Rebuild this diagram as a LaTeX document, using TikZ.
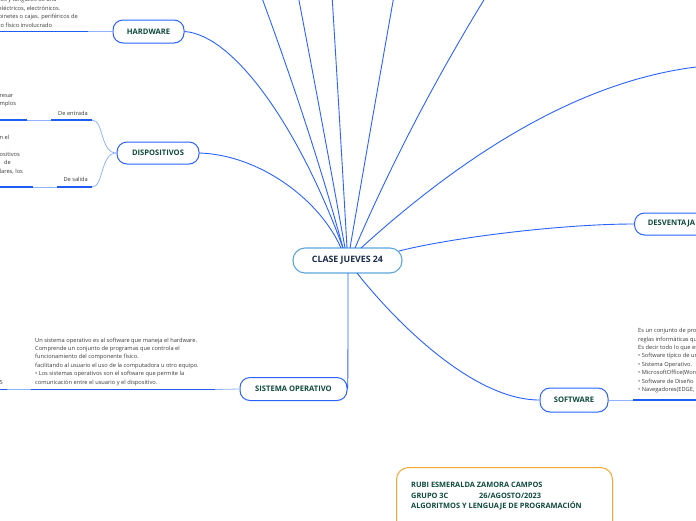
\documentclass[tikz,border=0pt]{standalone}
\usepackage{fontspec}
\setmainfont{Open Sans}
\usetikzlibrary{calc}
\definecolor{mainblue}{HTML}{2962FF}
\definecolor{lightblue}{HTML}{8FB2FF}
\definecolor{lineblue}{HTML}{1F5CF2}
\definecolor{hubblue}{HTML}{5CA6DE}
\definecolor{topicgreen}{HTML}{0E4A3B}
\definecolor{hubtext}{HTML}{1A2A4A}
\definecolor{bodygray}{HTML}{3A3A3A}
\definecolor{boxorange}{HTML}{F6A630}
\tikzset{
 topic/.style={draw=mainblue, line width=1pt, rounded corners=10pt, fill=white, text=topicgreen,
   font=\fontsize{7.6}{9}\selectfont\bfseries, inner sep=0pt, minimum height=23pt},
 hub/.style={draw=hubblue, line width=1.1pt, rounded corners=12pt, fill=white, text=hubtext,
   font=\fontsize{8.8}{10}\selectfont\bfseries, inner sep=0pt, minimum width=109pt, minimum height=25pt},
 conn/.style={draw=mainblue, line width=0.9pt},
 thinconn/.style={draw=lightblue, line width=0.8pt},
 underl/.style={draw=lineblue, line width=1.4pt},
 body/.style={text=bodygray, font=\fontsize{5.7}{8.4}\selectfont, inner sep=0pt, align=left},
 subl/.style={text=bodygray, font=\fontsize{5.7}{7}\selectfont, inner sep=0pt},
 sign/.style={text=topicgreen, font=\fontsize{7.4}{10.5}\selectfont\bfseries, inner sep=0pt, align=left},
}
\newcommand\qconn[3]{\draw[conn] (#1) .. controls ($(#1)!0.667!(#2)$) and ($(#3)!0.667!(#2)$) .. (#3);}
\begin{document}
\begin{tikzpicture}[x=1pt,y=-1pt]
\useasboundingbox (0,0) rectangle (696,520);
\clip (0,0) rectangle (696,520);

% nodes
\node[hub] (clase) at (347.5,260.5) {CLASE JUEVES 24};
\node[topic, minimum width=71pt] (hw) at (148.5,31.5) {HARDWARE};
\node[topic, minimum width=82pt, minimum height=22pt] (disp) at (158,153) {DISPOSITIVOS};
\node[topic, minimum width=107pt] (so) at (293.5,389) {SISTEMA OPERATIVO};
\node[topic, minimum width=68pt, minimum height=24pt] (sw) at (574,400) {SOFTWARE};
\node[topic, minimum width=74pt, minimum height=22pt, anchor=west] (desv) at (634,224) {DESVENTAJA};

% free ends
\coordinate (t1) at (259,-10);
\coordinate (t2) at (297,-10);
\coordinate (t3) at (331.7,-10);
\coordinate (t4) at (395,-10);
\coordinate (t5) at (490,-10);
\coordinate (t6) at (705,66);
\coordinate (h1) at (343,248);
\coordinate (h2) at (345,248);
\coordinate (h3) at (347,248);
\coordinate (h4) at (350,248);
\coordinate (h5) at (355,248);
\coordinate (h6) at (361,248);

% main connectors
\qconn{h1}{311,130}{t1}
\qconn{h2}{322,120}{t2}
\qconn{h3}{340,125}{t3}
\qconn{h4}{372,120}{t4}
\qconn{h5}{411,118}{t5}
\qconn{h6}{544,82}{t6}
\draw[conn] (hw.east) .. controls (235,35) and (300,130) .. (343,248);
\draw[conn] (disp.east) .. controls (260,155) and (320,200) .. (341,248);
\draw[conn] (399,251) .. controls (450,238) and (560,224) .. (desv.west);
\draw[conn] (357,273) .. controls (390,315) and (470,400) .. (sw.west);
\draw[conn] (348,273) .. controls (348,330) and (348,389) .. (so.east);

% hardware branch
\coordinate (hwA) at (88,31.5);
\coordinate (hwB) at (-5,31.5);
\draw[thinconn] (hw.west) -- (hwA);
\draw[underl] (hwA) -- (hwB);
\node[body, anchor=south west] (hwtext) at (-1.5,27.3)
 {tos y tangibles de una\\eléctricos, electrónicos.\\binetes o cajas. periféricos de\\to físico involucrado};

% dispositivos branch
\coordinate (deA) at (92,120);
\coordinate (deB) at (51,120);
\coordinate (deC) at (27,120);
\coordinate (deD) at (-5,120);
\coordinate (dsA) at (92,187);
\coordinate (dsB) at (57,187);
\coordinate (dsC) at (33,187);
\coordinate (dsD) at (-5,187);
\draw[thinconn] (disp.west) .. controls (100,153) and (104,120) .. (deA);
\draw[thinconn] (disp.west) .. controls (100,153) and (104,187) .. (dsA);
\draw[underl] (deA) -- (deB);
\draw[thinconn] (deB) -- (deC);
\draw[underl] (deC) -- (deD);
\draw[underl] (dsA) -- (dsB);
\draw[thinconn] (dsB) -- (dsC);
\draw[underl] (dsC) -- (dsD);
\node[subl, anchor=base east] (entrada) at (88,115.5) {De entrada};
\node[subl, anchor=base east] (salida) at (88,181.5) {De salida};
\node[body, anchor=south west] (entext) at (-0.5,107.3) {resar\\mplos};
\node[subl, anchor=base west] (sal1) at (-0.5,139) {n el};
\node[subl, anchor=base west] (sal2) at (-0.5,156) {ositivos};
\node[subl, anchor=base west] (sal3) at (4,164.5) {de};
\node[subl, anchor=base west] (sal4) at (-0.5,173) {lares, los};

% sistema operativo branch
\coordinate (soA) at (215,389.5);
\coordinate (soB) at (31,389.5);
\coordinate (soC) at (7,389.5);
\coordinate (soD) at (-5,389.5);
\draw[thinconn] (so.west) -- (soA);
\draw[underl] (soA) -- (soB);
\draw[thinconn] (soB) -- (soC);
\draw[underl] (soC) -- (soD);
\node[body, anchor=south west] (sotext) at (35,385.6)
 {Un sistema operativo es al software que maneja el hardware.\\
  Comprende un conjunto de programas que controla el\\
  funcionamiento del componente físico.\\
  facilitando al usuario el uso de la computadora u otro equipo.\\
  • Los sistemas operativos son el software que permite la\\
  comunicación entre el usuario y el dispositivo.};
\node[subl, anchor=base east] (sotail) at (3,384) {S};

% software branch
\coordinate (swA) at (633,400);
\coordinate (swB) at (705,400);
\draw[thinconn] (sw.east) -- (swA);
\draw[underl] (swA) -- (swB);
\node[body, anchor=south west] (swtext) at (638,393)
 {Es un conjunto de programas, instrucciones y\\
  reglas informáticas que permiten ejecutar tareas.\\
  Es decir todo lo que es intangible.\\
  • Software típico de una computadora:\\
  • Sistema Operativo.\\
  • MicrosoftOffice(Word, Excel, PowerPoint)\\
  • Software de Diseño\\
  • Navegadores(EDGE, Chrome)};

% signature box
\node[draw=boxorange, line width=1pt, rounded corners=12pt, minimum width=216pt, minimum height=66pt,
  anchor=north west, inner sep=0pt] (firmabox) at (396,467) {};
\node[sign, anchor=base west] (firma) at (411,508.8)
 {RUBI ESMERALDA ZAMORA CAMPOS\\
  \makebox[68pt][l]{GRUPO 3C}26/AGOSTO/2023\\
  ALGORITMOS Y LENGUAJE DE PROGRAMACIÓN};
\end{tikzpicture}
\end{document}
